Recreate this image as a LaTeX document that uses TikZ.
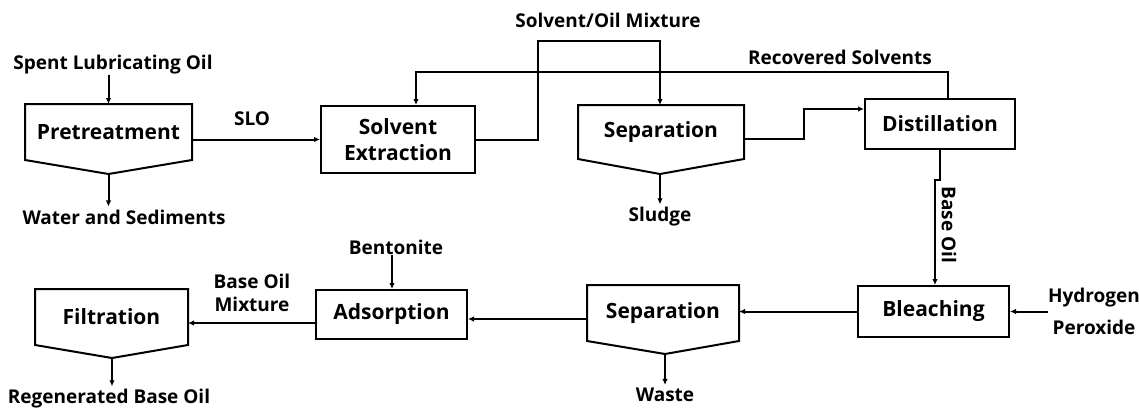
\documentclass[tikz,border=0pt]{standalone}
\usepackage{fontspec}
\setmainfont{Open Sans}
\usepackage{tikz}
\usetikzlibrary{calc}
\usetikzlibrary{arrows.meta}
\pgfdeclarelayer{nodelayer}
\pgfdeclarelayer{edgelayer}
\pgfsetlayers{edgelayer,nodelayer,main}
\tikzstyle{none}=[inner sep=0pt]
\tikzset{box/.style={inner sep=0pt, line width=2pt, draw=black, align=center,
font=\bfseries\fontsize{21}{26}\selectfont, anchor=center}}
\tikzset{tank/.style={box, draw=none}}
\tikzset{lbl/.style={inner sep=0pt, align=center, font=\bfseries\fontsize{19}{23}\selectfont}}
\tikzset{outline/.style={line width=2pt, line join=miter}}
\tikzset{flow/.style={line width=2pt, -{Latex[length=6pt,width=5.5pt]}}}

\begin{document}
\begin{tikzpicture}[x=1pt,y=-1pt]
	\useasboundingbox (0,0) rectangle (1139,407);
	\begin{pgfonlayer}{nodelayer}
		% process units
		\node [style=tank, minimum width=165, minimum height=54] (pre) at (108.5, 132) {Pretreatment};
		\node [style=box, minimum width=154, minimum height=67] (ext) at (398, 139.5) {Solvent\\Extraction};
		\node [style=tank, minimum width=164, minimum height=52] (sep1) at (661, 132) {Separation};
		\node [style=box, minimum width=150, minimum height=50] (dist) at (940, 124) {Distillation};
		\node [style=box, minimum width=151, minimum height=51] (blch) at (933.5, 311.5) {Bleaching};
		\node [style=tank, minimum width=150, minimum height=54] (sep2) at (663, 313) {Separation};
		\node [style=box, minimum width=151, minimum height=49] (ads) at (391.5, 314.5) {Adsorption};
		\node [style=tank, minimum width=151, minimum height=54] (filt) at (111.5, 317) {Filtration};
		\coordinate (pretip) at ($(pre.south)+(0,14)$);
		\coordinate (sep1tip) at ($(sep1.south)+(-1,15)$);
		\coordinate (sep2tip) at ($(sep2.south)+(2,13)$);
		\coordinate (filttip) at ($(filt.south)+(0.5,13)$);
		% streams
		\node [style=lbl] (feed) at (113, 65) {Spent Lubricating Oil};
		\node [style=lbl] (water) at (124, 217) {Water and Sediments};
		\node [style=lbl] (slo) at (252, 119) {SLO};
		\node [style=lbl] (mix) at (608, 20) {Solvent/Oil Mixture};
		\node [style=lbl] (rec) at (840, 57) {Recovered Solvents};
		\node [style=lbl] (sludge) at (660, 217) {Sludge};
		\node [style=lbl, rotate=-90] (base) at (949, 225) {Base Oil};
		\node [style=lbl] (h2o2) at (1094, 311) {Hydrogen\\[9pt]Peroxide};
		\node [style=lbl] (waste) at (665, 395) {Waste};
		\node [style=lbl] (bent) at (396, 247) {Bentonite};
		\node [style=lbl] (bom) at (252, 293) {Base Oil\\Mixture};
		\node [style=lbl] (regen) at (109, 399) {Regenerated Base Oil};
		% bends
		\coordinate (m1) at (538, 140);
		\coordinate (m2) at (538, 41);
		\coordinate (m3) at (660, 41);
		\coordinate (r1) at (948, 72);
		\coordinate (r2) at (416, 72);
		\coordinate (s1) at (804, 139);
		\coordinate (s2) at (804, 109);
		\coordinate (b1) at (940, 180);
		\coordinate (b2) at (935, 180);
	\end{pgfonlayer}
	\begin{pgfonlayer}{edgelayer}
		\draw [style=outline] (pre.north west) -- (pre.north east) -- (pre.south east) -- (pretip) -- (pre.south west) -- cycle;
		\draw [style=outline] (sep1.north west) -- (sep1.north east) -- (sep1.south east) -- (sep1tip) -- (sep1.south west) -- cycle;
		\draw [style=outline] (sep2.north west) -- (sep2.north east) -- (sep2.south east) -- (sep2tip) -- (sep2.south west) -- cycle;
		\draw [style=outline] (filt.north west) -- (filt.north east) -- (filt.south east) -- (filttip) -- (filt.south west) -- cycle;
		\draw [style=flow] (feed.south -| pre.north) -- (pre.north);
		\draw [style=flow] (pretip) -- ($(water.north -| pretip)+(0,-3)$);
		\draw [style=flow] (pre.east |- ext.west) -- (ext.west);
		\draw [style=flow] (ext.east |- m1) -- (m1) -- (m2) -- (m3) -- (sep1.north -| m3);
		\draw [style=flow] (dist.north -| r1) -- (r1) -- (r2) -- (ext.north -| r2);
		\draw [style=flow] (sep1.east |- s1) -- (s1) -- (s2) -- (dist.west |- s2);
		\draw [style=flow] (sep1tip) -- ($(sludge.north -| sep1tip)+(0,-3)$);
		\draw [style=flow] (dist.south -| b1) -- (b1) -- (b2) -- (blch.north -| b2);
		\draw [style=flow] (h2o2.west |- blch.east) -- (blch.east);
		\draw [style=flow] (blch.west) -- (sep2.east |- blch.west);
		\draw [style=flow] (sep2tip) -- ($(waste.north -| sep2tip)+(0,-3)$);
		\draw [style=flow] (sep2.west |- 0,319) -- (ads.east |- 0,319);
		\draw [style=flow] (bent.south -| 392,0) -- (ads.north -| 392,0);
		\draw [style=flow] (ads.west |- 0,323) -- (filt.east |- 0,323);
		\draw [style=flow] (filttip) -- ($(regen.north -| filttip)+(0,-3)$);
	\end{pgfonlayer}
\end{tikzpicture}
\end{document}
